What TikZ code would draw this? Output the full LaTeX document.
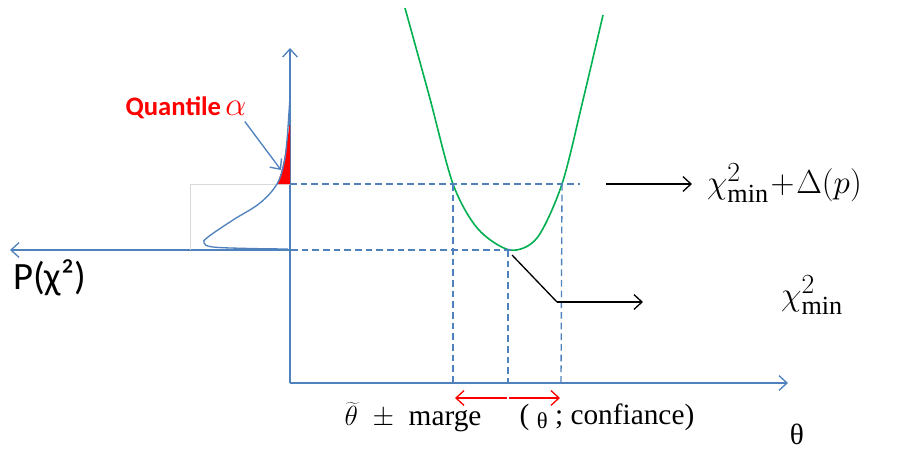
\documentclass[tikz,border=0pt]{standalone}
\usepackage{fontspec}
\setmainfont{Liberation Serif}
\newfontfamily\calibri{Carlito}
\usetikzlibrary{arrows.meta}
\definecolor{axisblue}{RGB}{79,129,189}
\definecolor{curvegreen}{RGB}{0,176,80}

\begin{document}
\begin{tikzpicture}[x=0.75pt, y=-0.75pt, >={Straight Barb[length=6pt,width=11pt]}, line width=1pt,
    axis/.style={axisblue, ->},
    guide/.style={axisblue, dash pattern=on 5pt off 3pt},
    pointer/.style={black, ->},
    every node/.style={font=\fontsize{22}{24}\selectfont}]
    \useasboundingbox (0,0) rectangle (898,450);

    % Assi
    \coordinate (O) at (290,383);
    \coordinate (ytop) at (290,48);
    \coordinate (thend) at (788,383);
    \coordinate (P0) at (290,250);
    \coordinate (Pend) at (10,250);
    \draw[axis] (O) -- (ytop);
    \draw[axis] (O) -- (thend);
    \draw[axis] (P0) -- (Pend);

    % Cadre gris
    \draw[black!15, line width=0.5pt] (290,184) -- (190,184) -- (190,250);

    % Quantile
    \fill[red] plot[smooth] coordinates {(277,184) (281,173) (284,160) (287,142) (289.5,125)} -- (290,125) -- (290,184) -- cycle;
    \draw[axisblue] plot[smooth, tension=0.6] coordinates {(288,249) (250,248.5) (213,247) (204,243) (208,237) (233,220) (260,203) (277,184) (284,163) (287,140) (289,112) (290,96)};

    % Parabole
    \draw[curvegreen, line width=1.2pt] plot[smooth] coordinates {(405,8) (429,95) (453,184) (478,229) (510,250) (537,238) (562,184) (583,100) (603,15)};

    % Lignes de rappel
    \draw[guide] (290,184) -- (580,184);
    \draw[guide] (227,250) -- (512,250);
    \draw[guide] (453,184) -- (453,383);
    \draw[guide] (508,250) -- (508,383);
    \draw[guide] (562,184) -- (561,383);

    % Fleches noires
    \coordinate (ua) at (606,184);
    \coordinate (ub) at (692,184);
    \draw[pointer] (ua) -- (ub);
    \coordinate (minpt) at (512,255);
    \coordinate (bend) at (557,302);
    \coordinate (lb) at (643,302);
    \draw[black] (minpt) -- (bend);
    \draw[pointer] (bend) -- (lb);

    % Marge
    \coordinate (ml) at (455,398);
    \coordinate (mc) at (508,398);
    \coordinate (mr) at (560,398);
    \draw[red, ->] ([xshift=-1pt]mc) -- (ml);
    \draw[red, ->] ([xshift=1pt]mc) -- (mr);

    % Textes
    \node[anchor=west, font=\calibri\fontsize{29}{32}\selectfont] (plabel) at (8,278) {P(χ²)};
    \node[red, font=\calibri\bfseries\fontsize{20}{22}\selectfont] (quant) at (186,108) {Quantile\,{\fontsize{26}{26}\selectfont$\alpha$}};
    \coordinate (qtip) at (281,170);
    \draw[axisblue, ->] ([xshift=-5pt, yshift=2pt]quant.south east) -- (qtip);
    \node[anchor=west, font=\fontsize{28}{30}\selectfont] (chiup) at (702,183) {$\chi^2_{\min} \!+\! \Delta(p)$};
    \node[font=\fontsize{28}{30}\selectfont] (chimin) at (812,295) {$\chi^2_{\min}$};
    \node (est) at (413,417) {$\widetilde{\theta}$ \ $\pm$ \ marge};
    \node (conf) at (607,417) {( \raisebox{-3pt}{\fontsize{17}{18}\selectfont θ} ; confiance)};
    \node (thlab) at (797,434) {θ};
\end{tikzpicture}
\end{document}
